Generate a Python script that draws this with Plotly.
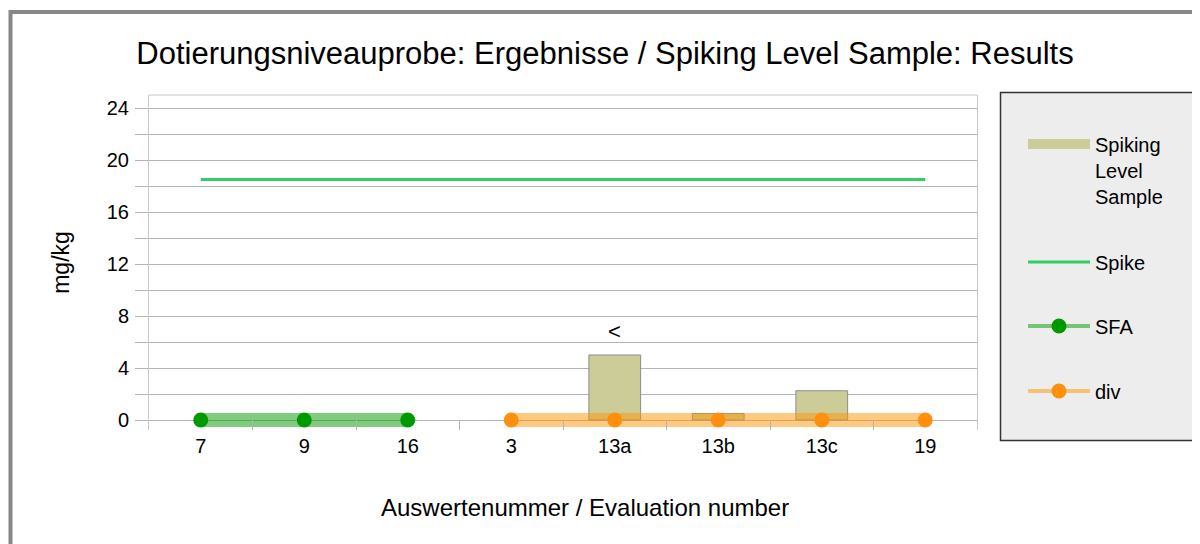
import plotly.graph_objects as go

categories = ["7", "9", "16", "3", "13a", "13b", "13c", "19"]
spiking_values = [None, None, None, None, 5.0, 0.5, 2.25, None]
spike_value = 18.5
sfa_labels = ["7", "9", "16"]
sfa_values = [0, 0, 0]
div_labels = ["3", "13a", "13b", "13c", "19"]
div_values = [0, 0, 0, 0, 0]
flag_label = "13a"
flag_text = "<"

FONT = "Liberation Sans, Arial, sans-serif"

# the page body adds an 8 px margin; work in screen pixels and shift
OFF = 8
W, H = 1200 - OFF, 544 - OFF
L, R, T, B = 149 - OFF, 977 - OFF, 95 - OFF, 430 - OFF
Y0_PX = 420  # screen row of the value 0
Y_MAX = 25.0
Y_MIN = -(B + OFF - Y0_PX) * Y_MAX / (Y0_PX - (T + OFF))


def px(x):
    return (x - OFF - L) / (R - L)


def py(y):
    return (B - (y - OFF)) / (B - T)


fig = go.Figure()

fig.add_trace(go.Bar(
    x=categories, y=spiking_values, name="Spiking Level Sample",
    width=0.5, marker=dict(color="#cccc99", line=dict(color="#8c8c8c", width=1)),
    showlegend=False,
))
fig.add_trace(go.Scatter(
    x=categories, y=[spike_value] * len(categories), name="Spike", mode="lines",
    line=dict(color="#33cc66", width=3), showlegend=False,
))
fig.add_trace(go.Scatter(
    x=sfa_labels, y=sfa_values, name="SFA", mode="lines+markers",
    line=dict(color="rgba(0,153,0,0.5)", width=14),
    marker=dict(color="#009900", size=15), showlegend=False, cliponaxis=False,
))
fig.add_trace(go.Scatter(
    x=div_labels, y=div_values, name="div", mode="lines+markers",
    line=dict(color="rgba(255,150,0,0.5)", width=14),
    marker=dict(color="#ff8f0f", size=15), showlegend=False, cliponaxis=False,
))

# legend entries (styled like the original legend keys)
fig.add_trace(go.Scatter(
    x=[None], y=[None], name="Spiking<br>Level<br>Sample", mode="lines",
    line=dict(color="#cccc99", width=12), legend="legend",
))
fig.add_trace(go.Scatter(
    x=[None], y=[None], name="Spike", mode="lines",
    line=dict(color="#33cc66", width=3), legend="legend2",
))
fig.add_trace(go.Scatter(
    x=[None], y=[None], name="SFA", mode="lines+markers",
    line=dict(color="rgba(0,153,0,0.5)", width=4),
    marker=dict(color="#009900", size=15), legend="legend3",
))
fig.add_trace(go.Scatter(
    x=[None], y=[None], name="div", mode="lines+markers",
    line=dict(color="rgba(255,150,0,0.5)", width=4),
    marker=dict(color="#ff8f0f", size=15), legend="legend4",
))

flag_idx = categories.index(flag_label)
fig.add_annotation(
    x=flag_label, y=spiking_values[flag_idx], text=flag_text, showarrow=False,
    yanchor="bottom", yshift=9, font=dict(family=FONT, size=22, color="black"),
)

# x-axis title placed like the original
fig.add_annotation(
    xref="paper", yref="paper", x=px(585), y=py(507), text="Auswertenummer / Evaluation number",
    showarrow=False, xanchor="center", yanchor="middle",
    font=dict(family=FONT, size=24, color="black"),
)

# outer frame, top edge of the plot wall and legend box
fig.add_shape(type="rect", xref="paper", yref="paper",
              x0=px(10.5), x1=px(1215), y0=py(570), y1=py(12),
              line=dict(color="#888888", width=4), fillcolor="rgba(0,0,0,0)", layer="below")
fig.add_shape(type="line", xref="paper", yref="paper", x0=0, x1=1, y0=1, y1=1,
              line=dict(color="#c8c8c8", width=1), layer="below")
fig.add_shape(type="rect", xref="paper", yref="paper",
              x0=px(1000.5), x1=px(1193), y0=py(440.5), y1=py(92.5),
              line=dict(color="#333333", width=1.5), fillcolor="#ededed", layer="below")

leg_common = dict(bgcolor="rgba(0,0,0,0)", borderwidth=0, itemwidth=62,
                  font=dict(family=FONT, size=20, color="black"),
                  xanchor="left", yanchor="middle", valign="top", itemclick=False,
                  itemdoubleclick=False)

fig.update_layout(
    width=W, height=H, autosize=False,
    margin=dict(l=L, r=W - R, t=T, b=H - B),
    paper_bgcolor="white", plot_bgcolor="white",
    font=dict(family=FONT, size=20, color="black"),
    title=dict(text="Dotierungsniveauprobe: Ergebnisse / Spiking Level Sample: Results",
               x=(605 - OFF) / W, xanchor="center", y=1 - (53 - OFF) / H, yanchor="middle",
               font=dict(family=FONT, size=31, color="black")),
    showlegend=True,
    legend=dict(x=px(1023), y=py(170), **leg_common),
    legend2=dict(x=px(1023), y=py(262), **leg_common),
    legend3=dict(x=px(1023), y=py(326), **leg_common),
    legend4=dict(x=px(1023), y=py(391), **leg_common),
    xaxis=dict(
        type="category", categoryorder="array", categoryarray=categories,
        range=[-0.5, len(categories) - 0.5],
        showline=False,
        ticks="inside", tickson="boundaries", ticklen=10, tickcolor="#b3b3b3",
        showgrid=False, tickfont=dict(family=FONT, size=20, color="black"),
        ticklabelstandoff=2,
    ),
    yaxis=dict(
        range=[Y_MIN, Y_MAX], tickmode="linear", tick0=0, dtick=4,
        showline=True, linecolor="#c8c8c8", linewidth=1, mirror=True,
        ticks="outside", ticklen=13, tickcolor="#b3b3b3",
        showgrid=True, gridcolor="#b3b3b3", gridwidth=1, zeroline=False,
        minor=dict(dtick=2, tick0=0, showgrid=True, gridcolor="#b3b3b3",
                   ticks="outside", ticklen=13, tickcolor="#b3b3b3"),
        tickfont=dict(family=FONT, size=20, color="black"),
        ticklabelstandoff=2,
        title=dict(text="mg/kg", standoff=30, font=dict(family=FONT, size=23, color="black")),
    ),
)

fig.write_html("out.html")
